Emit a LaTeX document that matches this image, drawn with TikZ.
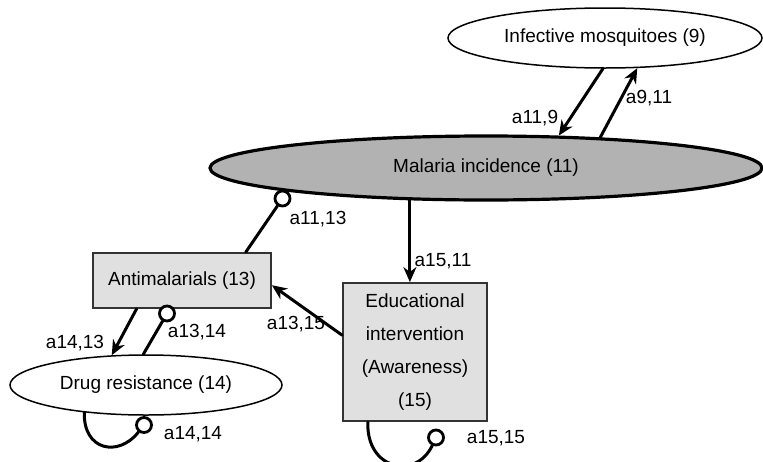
\documentclass[tikz,border=0pt]{standalone}
\usepackage{fontspec}
\setmainfont{Liberation Sans}
\usetikzlibrary{shapes.geometric,arrows.meta}
\begin{document}
\begin{tikzpicture}[x=1pt,y=-1pt,
  every node/.style={font=\fontsize{19}{23}\selectfont},
  link/.style={line width=3pt, line cap=round},
  arr/.style={link, -{Stealth[length=15pt,width=13pt]}},
  oval/.style={ellipse, draw, line width=1.5pt, inner sep=0pt},
  boxnode/.style={rectangle, draw=black!80, line width=1.8pt, fill=black!12, inner sep=0pt},
  ring/.style={circle, draw, line width=2.8pt, fill=white, minimum size=15pt, inner sep=0pt},
  lbl/.style={inner sep=0pt}
]
\useasboundingbox (0,0) rectangle (763,461);
\clip (0,0) rectangle (763,461);

% state variables
\node[oval, minimum width=314pt, minimum height=60pt] (mos) at (605,38) {Infective mosquitoes (9)};
\node[oval, fill=black!30, line width=3.2pt, minimum width=552pt, minimum height=64pt] (mal) at (486,168) {Malaria incidence (11)};
\node[boxnode, minimum width=178pt, minimum height=55pt] (anti) at (182,280.5) {Antimalarials (13)};
\node[boxnode, minimum width=144pt, minimum height=138pt, align=center,
      font=\fontsize{19}{33}\selectfont] (edu) at (415,352) {Educational\\intervention\\(Awareness)\\(15)};
\node[oval, minimum width=272pt, minimum height=60pt] (dr) at (146,385) {Drug resistance (14)};

% negative-effect end markers
\node[ring] (r1) at (282.5,198.5) {};
\node[ring] (r2) at (167,313.5) {};
\node[ring] (r3) at (144,425) {};
\node[ring] (r4) at (436,437.5) {};

% links
\draw[arr] (mos.266) -- (mal.24);
\draw[arr] (mal.15) -- (mos.317);
\draw[arr] (mal.203) -- (mal.203 |- edu.north);
\draw[link] (anti.24) -- (r1);
\draw[arr] (edu.167) -- (anti.357);
\draw[arr] (anti.212) -- (dr.139);
\draw[link] (dr.95) -- (r2);
\draw[link] (dr.204) .. controls (83,450) and (118,458) .. (r3);
\draw[link] (edu.236) .. controls (366,470) and (416,480) .. (r4);

% coefficients
\node[lbl] (l1) at (535,118) {a11,9};
\node[lbl] (l2) at (649,98) {a9,11};
\node[lbl] (l3) at (443,261) {a15,11};
\node[lbl] (l4) at (318,219) {a11,13};
\node[lbl] (l5) at (296,324) {a13,15};
\node[lbl] (l6) at (75,343) {a14,13};
\node[lbl] (l7) at (197,332) {a13,14};
\node[lbl] (l8) at (193,434) {a14,14};
\node[lbl] (l9) at (496,438) {a15,15};
\end{tikzpicture}
\end{document}
